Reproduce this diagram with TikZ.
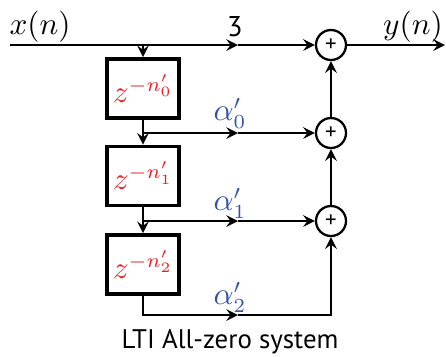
\documentclass[tikz,border=0pt]{standalone}
\usepackage{fontspec}
\setsansfont{PT Sans}
\usetikzlibrary{positioning}

\definecolor{delayred}{RGB}{232,32,44}
\definecolor{coefblue}{RGB}{52,84,168}

\tikzset{
  delaybox/.style={draw, line width=1.3pt, minimum width=25.2pt, minimum height=20.6pt, inner sep=0pt, text=delayred},
  adder/.style={draw, circle, line width=0.8pt, minimum size=10.5pt, inner sep=0pt, font=\footnotesize\sffamily},
  coef/.style={text=coefblue},
}

\begin{document}
\begin{tikzpicture}[x=0.35pt, y=-0.35pt, thick, >=stealth, font=\fontsize{10.7}{13}\selectfont]
    \useasboundingbox (0,0) rectangle (446,356);

    % Entree et sortie
    \coordinate (xin) at (10,45);
    \coordinate (tap) at (143,45);
    \coordinate (m0) at (238,45);
    \coordinate (yout) at (445,45);
    \node (xlabel) at (40,27) {$x(n)$};
    \node (ylabel) at (413,27) {$y(n)$};
    \node[font=\sffamily] (gain) at (235,27) {3};

    % Retards
    \node[delaybox] (d0) at (143,88.5) {$z^{-n'_0}$};
    \node[delaybox] (d1) at (143,176) {$z^{-n'_1}$};
    \node[delaybox] (d2) at (143,264.5) {$z^{-n'_2}$};

    % Sommateurs
    \node[adder] (s0) at (331,45) {+};
    \node[adder] (s1) at (331,133) {+};
    \node[adder] (s2) at (331,221) {+};

    % Branches
    \coordinate (j0) at (143,133);
    \coordinate (j1) at (143,221);
    \coordinate (m1) at (238,133);
    \coordinate (m2) at (238,221);
    \coordinate (m3) at (238,315);

    % Chemin direct
    \draw[->] (xin) -- (m0);
    \draw[->] (m0) -- (s0);
    \draw[->] (s0) -- (yout);
    \draw[->] (tap) -- (d0);

    % Chaine des retards
    \draw[->] (d0) -- (d1);
    \draw[->] (d1) -- (d2);
    \draw[->] (j0) -- (m1);
    \draw[->] (m1) -- (s1);
    \draw[->] (j1) -- (m2);
    \draw[->] (m2) -- (s2);
    \draw[->] (d2) |- (m3);
    \draw[->] (m3) -| (s2);

    % Somme verticale
    \draw[->] (s2) -- (s1);
    \draw[->] (s1) -- (s0);

    % Coefficients
    \node[coef] (a0) at (230,113) {$\alpha'_0$};
    \node[coef] (a1) at (230,203) {$\alpha'_1$};
    \node[coef] (a2) at (230,297) {$\alpha'_2$};

    \node[font=\sffamily\fontsize{9.4}{11}\selectfont] (title) at (230,342) {LTI All-zero system};
\end{tikzpicture}
\end{document}
